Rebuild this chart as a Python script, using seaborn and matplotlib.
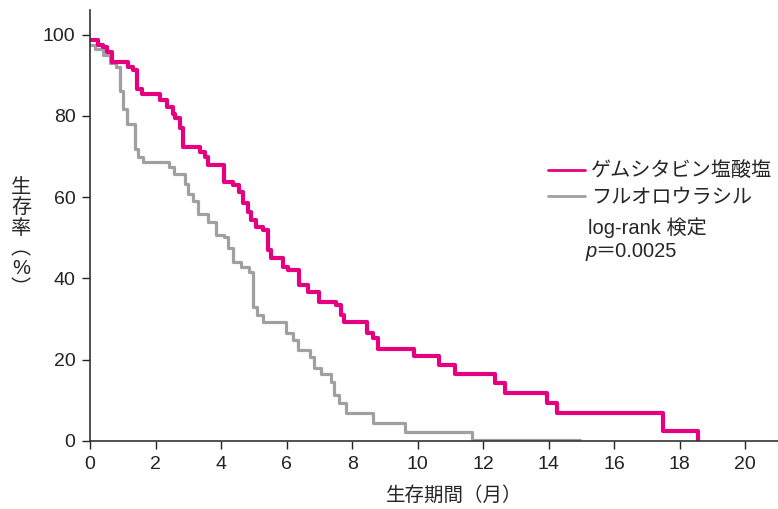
import matplotlib
matplotlib.use('Agg')
import matplotlib.pyplot as plt
import seaborn as sns
import pandas as pd

# curva de supervivencia (meses, %)
gem_t = [0, 0.25, 0.4, 0.52, 0.67, 1.17, 1.32, 1.44, 1.6, 2.15, 2.36, 2.52, 2.6, 2.76, 2.85,
         3.37, 3.5, 3.6, 4.1, 4.35, 4.55, 4.67, 4.82, 4.9, 5.06, 5.28, 5.43, 5.52, 5.9, 6.05,
         6.38, 6.66, 7.0, 7.52, 7.67, 7.76, 8.44, 8.65, 8.8, 9.88, 10.64, 11.13, 12.36, 12.67,
         13.96, 14.26, 17.48, 18.56]
gem_s = [98.7, 97.5, 96.9, 95.7, 93.2, 92.0, 91.2, 86.6, 85.4, 83.8, 82.1, 80.5, 79.4, 76.9, 72.3,
         71.1, 69.9, 67.8, 63.7, 62.9, 61.3, 58.5, 56.3, 54.3, 52.7, 51.8, 46.9, 45.0, 42.8, 42.0,
         38.3, 36.7, 34.2, 33.4, 31.0, 29.3, 26.5, 25.3, 22.6, 20.9, 18.7, 16.5, 14.2, 11.7,
         9.3, 6.9, 2.5, 0.0]

fu_t = [0, 0.15, 0.4, 0.6, 0.8, 0.93, 1.0, 1.13, 1.38, 1.47, 1.62, 2.4, 2.55, 2.9, 3.0, 3.15,
        3.3, 3.6, 3.85, 4.1, 4.2, 4.35, 4.6, 4.85, 4.97, 5.1, 5.28, 5.98, 6.2, 6.35, 6.7, 6.84,
        7.05, 7.36, 7.45, 7.6, 7.82, 8.65, 9.6, 11.66, 14.97]
fu_s = [97.5, 96.5, 95.0, 93.0, 92.0, 86.2, 81.7, 78.0, 71.9, 69.9, 68.7, 67.5, 65.8, 63.3, 60.8, 59.0,
        55.9, 53.9, 50.6, 50.2, 47.4, 44.1, 42.8, 41.6, 33.0, 31.0, 29.3, 26.5, 24.8, 22.4, 20.7, 17.9,
        16.5, 14.6, 11.3, 9.3, 6.9, 4.5, 2.3, 0.3, 0.3]

groups = ['ゲムシタビン塩酸塩', 'フルオロウラシル']
colors = ['#e4007f', '#a0a0a0']
x_ticks = list(range(0, 21, 2))
y_ticks = list(range(0, 101, 20))

df = pd.concat([
    pd.DataFrame({'t': gem_t, 's': gem_s, 'g': groups[0]}),
    pd.DataFrame({'t': fu_t, 's': fu_s, 'g': groups[1]}),
])

sns.set_style('white')
plt.rcParams['font.family'] = ['Liberation Sans', 'Noto Sans CJK JP', 'DejaVu Sans']

fig = plt.figure(figsize=(7.78, 5.09), dpi=100)
ax = fig.add_axes([0.1157, 0.1336, 0.8843, 0.8464])

# gris primero para que el rosa quede encima
sns.lineplot(data=df[df.g == groups[1]], x='t', y='s', color=colors[1], lw=2.3,
             drawstyle='steps-post', estimator=None, sort=False, ax=ax, label=groups[1])
sns.lineplot(data=df[df.g == groups[0]], x='t', y='s', color=colors[0], lw=3.0,
             drawstyle='steps-post', estimator=None, sort=False, ax=ax, label=groups[0])

ax.set_xlim(0, 21)
ax.set_ylim(0, 106)
ax.set_xticks(x_ticks)
ax.set_yticks(y_ticks)
ax.tick_params(axis='both', direction='out', length=5.5, width=1, pad=5, labelsize=14,
               colors='#222222', left=True, bottom=True)
for sp in ['top', 'right']:
    ax.spines[sp].set_visible(False)
for sp in ['left', 'bottom']:
    ax.spines[sp].set_color('#333333')
    ax.spines[sp].set_linewidth(1.2)

ax.set_xlabel('生存期間（月）', fontsize=14)
ax.xaxis.set_label_coords(0.529, -0.105)
ax.set_ylabel('')
fig.text(0.027, 0.532, '生\n存\n率\n︵\n%\n︶', ha='center', va='center', fontsize=14.5,
         linespacing=1.08)

h, l = ax.get_legend_handles_labels()
leg = ax.legend(h[::-1], l[::-1], loc='center left', bbox_to_anchor=(0.704, 0.637),
                bbox_transform=fig.transFigure, frameon=False, borderpad=0, borderaxespad=0,
                fontsize=14.5, handlelength=1.85, handletextpad=0.3, labelspacing=0.36)
for ln in leg.get_lines():
    ln.set_linewidth(2)

fig.text(0.756, 0.552, 'log-rank 検定', fontsize=14.5, ha='left', va='center')
fig.text(0.753, 0.505, 'p', fontsize=14.5, style='italic', ha='left', va='center')
fig.text(0.7655, 0.505, '＝0.0025', fontsize=14.5, ha='left', va='center')

fig.savefig('out.png', dpi=100)
